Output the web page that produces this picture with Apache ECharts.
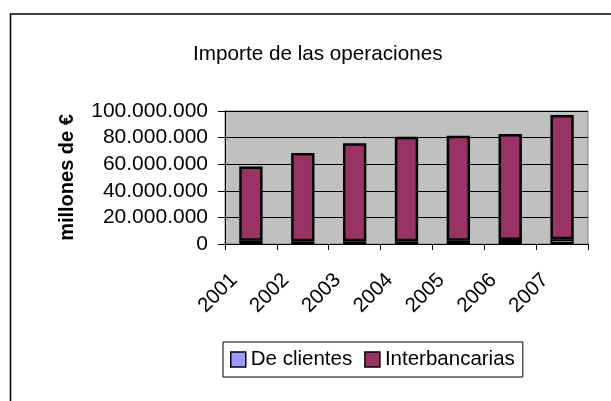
<!DOCTYPE html>
<html>
<head>
<meta charset="utf-8">
<script src="https://cdn.jsdelivr.net/npm/echarts@6/dist/echarts.min.js"></script>
<style>
  html, body { margin: 0; padding: 0; background: #fff; }
  #chart { width: 611px; height: 401px; }
</style>
</head>
<body>
<div id="chart"></div>
<script>
// datos
var years = ["2001", "2002", "2003", "2004", "2005", "2006", "2007"];
var deClientes = [2500000, 2000000, 2000000, 2000000, 2500000, 3000000, 3500000];
var interbancarias = [55700000, 66400000, 73700000, 78700000, 78900000, 79700000, 93500000];
var yTicks = [0, 20000000, 40000000, 60000000, 80000000, 100000000];

var FONT = "Liberation Sans";

function puntos(v) {
  return String(v).replace(/\B(?=(\d{3})+(?!\d))/g, ".");
}

var myChart = echarts.init(document.getElementById("chart"));

var option = {
  animation: false,
  textStyle: { fontFamily: FONT, color: "#000" },
  title: {
    text: "Importe de las operaciones",
    left: 188,
    top: 39,
    textStyle: { fontFamily: FONT, fontSize: 20.7, fontWeight: "normal", color: "#000" }
  },
  grid: {
    left: 225,
    right: 23,
    top: 111,
    bottom: 157,
    show: true,
    backgroundColor: "#C0C0C0",
    borderColor: "#808080",
    borderWidth: 1
  },
  legend: {
    data: ["De clientes", "Interbancarias"],
    left: 223,
    top: 342,
    padding: [7, 8, 7, 7],
    itemGap: 12,
    itemWidth: 15,
    itemHeight: 15,
    icon: "rect",
    borderColor: "#000",
    borderWidth: 1,
    itemStyle: { borderColor: "#000", borderWidth: 1.5 },
    textStyle: { fontFamily: FONT, fontSize: 20.5, color: "#000" }
  },
  xAxis: {
    type: "category",
    data: years,
    boundaryGap: true,
    axisLine: { lineStyle: { color: "#000", width: 1 } },
    axisTick: { show: true, length: 6, lineStyle: { color: "#000" } },
    axisLabel: {
      rotate: 45,
      margin: 16,
      fontFamily: FONT,
      fontSize: 20.5,
      color: "#000",
      padding: [0, 24, 0, 0]
    },
    splitLine: { show: false }
  },
  yAxis: {
    type: "value",
    min: yTicks[0],
    max: yTicks[yTicks.length - 1],
    interval: yTicks[1] - yTicks[0],
    name: "millones de €",
    nameLocation: "middle",
    nameGap: 148,
    nameTextStyle: { fontFamily: FONT, fontSize: 20, fontWeight: "bold", color: "#000" },
    axisLine: { show: true, lineStyle: { color: "#000", width: 1 } },
    axisTick: { show: true, length: 7, lineStyle: { color: "#000" } },
    axisLabel: {
      margin: 17,
      fontFamily: FONT,
      fontSize: 21,
      color: "#000",
      formatter: puntos
    },
    splitLine: { show: true, lineStyle: { color: "#000", width: 1 } }
  },
  series: [
    {
      name: "De clientes",
      type: "bar",
      stack: "total",
      barWidth: "45%",
      data: deClientes,
      itemStyle: { color: "#9999FF", borderColor: "#000", borderWidth: 2 }
    },
    {
      name: "Interbancarias",
      type: "bar",
      stack: "total",
      barWidth: "45%",
      data: interbancarias,
      itemStyle: { color: "#993366", borderColor: "#000", borderWidth: 2.5 }
    }
  ],
  graphic: [
    {
      type: "polyline",
      shape: { points: [[10.5, 401], [10.5, 14], [611, 14]] },
      style: { stroke: "#000", lineWidth: 1.5, fill: null },
      silent: true
    }
  ]
};

myChart.setOption(option);
</script>
</body>
</html>
